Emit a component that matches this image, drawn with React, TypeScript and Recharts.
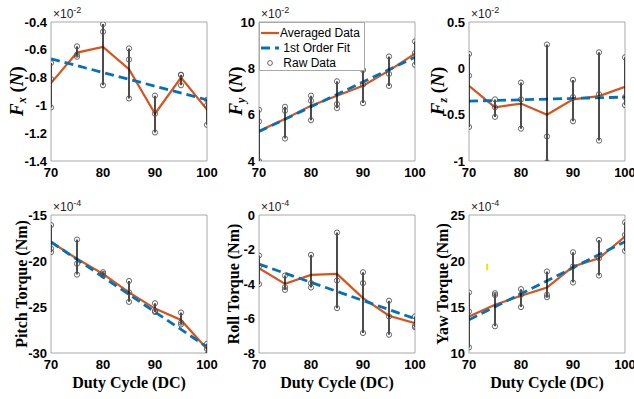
import React from 'react';
import { ComposedChart, Line, Scatter, XAxis, YAxis, ReferenceArea, ReferenceLine } from 'recharts';

// ─── Data ─────────────────────────────────────────────────────────────────────

const DUTY = [70, 75, 80, 85, 90, 95, 100];
const X_TICKS = [70, 80, 90, 100];

// Fx, ×10^-2 N
const FX_AVG = [-0.84, -0.62, -0.58, -0.74, -1.06, -0.8, -1.03];
const FX_RAW = [[-0.695, -0.81, -1.015], [-0.575, -0.65, -0.635], [-0.415, -0.47, -0.855], [-0.59, -0.67, -0.95], [-0.93, -1.06, -1.195], [-0.78, -0.78, -0.855], [-0.96, -1.0, -1.14]];
const FX_FIT = [-0.665, -0.96];
const FX_TICKS = [-1.4, -1.2, -1, -0.8, -0.6, -0.4];

// Fy, ×10^-2 N
const FY_AVG = [5.3, 5.81, 6.39, 6.82, 7.25, 7.9, 8.63];
const FY_RAW = [[6.21, 5.71, 4.0], [6.34, 6.17, 4.97], [6.82, 6.6, 5.76], [7.44, 6.46, 6.28], [7.93, 7.3, 6.5], [8.51, 7.76, 7.24], [9.16, 8.66, 8.15]];
const FY_FIT = [5.27, 8.48];
const FY_TICKS = [4, 6, 8, 10];

// Fz, ×10^-2 N
const FZ_AVG = [-0.19, -0.42, -0.38, -0.5, -0.335, -0.3, -0.2];
const FZ_RAW = [[0.155, -0.08, -0.633], [-0.335, -0.524, -0.42], [-0.154, -0.335, -0.651], [0.257, -0.735, -1.014], [-0.125, -0.571, -0.31], [0.173, -0.28, -0.78], [0.119, -0.31, -0.397]];
const FZ_FIT = [-0.354, -0.31];
const FZ_TICKS = [-1, -0.5, 0, 0.5];

// Pitch torque, ×10^-4 Nm
const PITCH_AVG = [-17.93, -19.76, -21.4, -23.41, -25.17, -26.41, -29.56];
const PITCH_RAW = [[-16.1, -18.66, -19.04], [-17.67, -20.3, -21.48], [-21.22, -21.58, -21.4], [-22.17, -23.4, -24.44], [-24.59, -25.43, -25.54], [-25.6, -26.7, -26.9], [-29.0, -29.56, -30.2]];
const PITCH_FIT = [-17.93, -29.34];
const PITCH_TICKS = [-30, -25, -20, -15];

// Roll torque, ×10^-4 Nm
const ROLL_AVG = [-3.08, -3.99, -3.47, -3.41, -4.82, -5.84, -6.27];
const ROLL_RAW = [[-2.35, -2.99, -4.01], [-3.51, -4.18, -4.34], [-2.31, -3.95, -4.2], [-1.02, -3.8, -5.4], [-3.32, -3.95, -6.84], [-4.97, -5.88, -6.94], [-5.88, -6.5, -6.43]];
const ROLL_FIT = [-2.85, -6.01];
const ROLL_TICKS = [-8, -6, -4, -2, 0];

// Yaw torque, ×10^-4 Nm
const YAW_AVG = [13.98, 15.24, 16.22, 17.12, 19.4, 20.3, 22.65];
const YAW_RAW = [[16.58, 14.52, 10.61], [16.5, 16.3, 12.9], [16.94, 16.33, 14.99], [18.86, 16.33, 16.07], [20.95, 19.4, 17.66], [22.29, 20.3, 18.42], [24.2, 22.83, 21.1]];
const YAW_FIT = [13.61, 22.1];
const YAW_TICKS = [10, 15, 20, 25];
// stray yellow mark in the yaw panel
const YAW_MARK_X = 73.5;
const YAW_MARK_Y = [19.0, 19.7];

// ─── Styling ──────────────────────────────────────────────────────────────────

const ORANGE = '#D95319';
const BLUE = '#0072BD';
const BOX = '#a8a8a8';
const SANS = '"Liberation Sans", Arial, sans-serif';
const SERIF = '"Liberation Serif", "Times New Roman", serif';

const PW = 156;          // plot width
const AXW = 51;          // y-axis gutter
const TOPM = 22;         // space above plot
const RIGHTM = 22;       // room for the last x tick label

const tickStyle = { fontSize: 13, fontWeight: 700, fill: '#000', fontFamily: SANS };

type PanelProps = {
  plotLeft: number; plotTop: number; plotH: number;
  ticks: number[]; avg: number[]; raw: number[][]; fit: number[];
  exp: string; extra?: React.ReactNode;
};

function Panel({ plotLeft, plotTop, plotH, ticks, avg, raw, fit, exp, extra }: PanelProps) {
  const lo = ticks[0];
  const hi = ticks[ticks.length - 1];
  const avgRows = DUTY.map((x, i) => ({ x, y: avg[i] }));
  const fitRows = [{ x: DUTY[0], y: fit[0] }, { x: DUTY[DUTY.length - 1], y: fit[1] }];
  const rawPts = DUTY.flatMap((x, i) => raw[i].map((y) => ({ x, y })));
  const bars = DUTY.map((x, i) => [{ x, y: Math.min(...raw[i]) }, { x, y: Math.max(...raw[i]) }]);
  const W = AXW + PW + RIGHTM;
  const H = TOPM + plotH + 28;

  return (
    <div style={{ position: 'absolute', left: plotLeft - AXW, top: plotTop - TOPM, width: W, height: H }}>
      <ComposedChart width={W} height={H} margin={{ top: TOPM, right: RIGHTM, left: 0, bottom: 0 }}>
        <XAxis type="number" dataKey="x" domain={[70, 100]} ticks={X_TICKS} allowDataOverflow
               tick={tickStyle} tickLine={false} axisLine={false} tickSize={0} tickMargin={7} height={28} />
        <YAxis type="number" dataKey="y" domain={[lo, hi]} ticks={ticks} allowDataOverflow
               tick={tickStyle} tickLine={false} axisLine={false} tickSize={0} tickMargin={4} width={AXW} />
        <ReferenceArea x1={70} x2={100} y1={lo} y2={hi} fill="#fff" fillOpacity={1} stroke={BOX} strokeWidth={1} />
        <Line data={avgRows} dataKey="y" stroke={ORANGE} strokeWidth={2.2} dot={false} isAnimationActive={false} />
        <Line data={fitRows} dataKey="y" stroke={BLUE} strokeWidth={2.8} strokeDasharray="9 5" dot={false} isAnimationActive={false} />
        {bars.map((b, i) => (
          <Line key={i} data={b} dataKey="y" stroke="#111" strokeWidth={1.5} dot={false} isAnimationActive={false} />
        ))}
        <Scatter data={rawPts} dataKey="y" isAnimationActive={false}
                 shape={(p: any) => <circle cx={p.cx} cy={p.cy} r={2.6} fill="none" stroke="#555" strokeWidth={0.9} />} />
        {extra}
      </ComposedChart>
      <div style={{ position: 'absolute', left: AXW + 2, top: TOPM - 17, fontFamily: SANS, fontSize: 12, color: '#222', whiteSpace: 'nowrap' }}>
        ×10<sup style={{ fontSize: 9, verticalAlign: 5 }}>{exp}</sup>
      </div>
    </div>
  );
}

function VLabel({ cx, cy, children, font, size }: { cx: number; cy: number; children: React.ReactNode; font: string; size: number }) {
  return (
    <div style={{
      position: 'absolute', left: cx, top: cy, transform: 'translate(-50%, -50%) rotate(-90deg)',
      whiteSpace: 'nowrap', fontFamily: font, fontSize: size, fontWeight: 700, color: '#000', lineHeight: 1,
    }}>{children}</div>
  );
}

function ForceLabel({ sub }: { sub: string }) {
  return (
    <span><i>F</i><sub style={{ fontSize: 12, fontStyle: 'italic', verticalAlign: -3 }}>{sub}</sub> (<i>N</i>)</span>
  );
}

function LegendBox() {
  const row = { display: 'flex', alignItems: 'center', height: 15, whiteSpace: 'nowrap' } as React.CSSProperties;
  return (
    <div style={{ position: 'absolute', left: 259, top: 22, width: 106, height: 49, background: '#fff',
                  border: `1px solid ${BOX}`, fontFamily: SANS, fontSize: 12, color: '#000', padding: '2px 0 0 0',
                  boxSizing: 'border-box', overflow: 'hidden' }}>
      <div style={row}>
        <svg width={20} height={10}><line x1={1} y1={5} x2={19} y2={5} stroke={ORANGE} strokeWidth={2.2} /></svg>
        <span>Averaged Data</span>
      </div>
      <div style={row}>
        <svg width={20} height={10}><line x1={1} y1={5} x2={19} y2={5} stroke={BLUE} strokeWidth={2.8} strokeDasharray="9 5" /></svg>
        <span>&nbsp;1st Order Fit</span>
      </div>
      <div style={row}>
        <svg width={20} height={10}><circle cx={10} cy={5} r={2.4} fill="none" stroke="#555" strokeWidth={0.9} /></svg>
        <span>&nbsp;Raw Data</span>
      </div>
    </div>
  );
}

export default function App() {
  const cols = [51, 259, 469];
  const rows = [22, 215];
  return (
    <div style={{ position: 'fixed', left: 0, top: 0, width: 634, height: 399, background: '#fff', overflow: 'hidden' }}>
      <Panel plotLeft={cols[0]} plotTop={rows[0]} plotH={139} ticks={FX_TICKS} avg={FX_AVG} raw={FX_RAW} fit={FX_FIT} exp="-2" />
      <Panel plotLeft={cols[1]} plotTop={rows[0]} plotH={139} ticks={FY_TICKS} avg={FY_AVG} raw={FY_RAW} fit={FY_FIT} exp="-2" />
      <Panel plotLeft={cols[2]} plotTop={rows[0]} plotH={139} ticks={FZ_TICKS} avg={FZ_AVG} raw={FZ_RAW} fit={FZ_FIT} exp="-2" />
      <Panel plotLeft={cols[0]} plotTop={rows[1]} plotH={138} ticks={PITCH_TICKS} avg={PITCH_AVG} raw={PITCH_RAW} fit={PITCH_FIT} exp="-4" />
      <Panel plotLeft={cols[1]} plotTop={rows[1]} plotH={138} ticks={ROLL_TICKS} avg={ROLL_AVG} raw={ROLL_RAW} fit={ROLL_FIT} exp="-4" />
      <Panel plotLeft={cols[2]} plotTop={rows[1]} plotH={138} ticks={YAW_TICKS} avg={YAW_AVG} raw={YAW_RAW} fit={YAW_FIT} exp="-4"
             extra={<ReferenceLine segment={[{ x: YAW_MARK_X, y: YAW_MARK_Y[0] }, { x: YAW_MARK_X, y: YAW_MARK_Y[1] }]}
                                   stroke="#f5e000" strokeWidth={2} />} />

      <LegendBox />

      <VLabel cx={17} cy={91} font={SERIF} size={19}><ForceLabel sub="x" /></VLabel>
      <VLabel cx={236} cy={91} font={SERIF} size={19}><ForceLabel sub="y" /></VLabel>
      <VLabel cx={438} cy={91} font={SERIF} size={19}><ForceLabel sub="z" /></VLabel>

      <VLabel cx={22} cy={284} font={SERIF} size={16}>Pitch Torque (Nm)</VLabel>
      <VLabel cx={234} cy={284} font={SERIF} size={16}>Roll Torque (Nm)</VLabel>
      <VLabel cx={443} cy={284} font={SERIF} size={16}>Yaw Torque (Nm)</VLabel>

      {cols.map((c) => (
        <div key={c} style={{ position: 'absolute', left: c + PW / 2, top: 383, transform: 'translate(-50%, -50%)',
                              fontFamily: SERIF, fontSize: 16, fontWeight: 700, whiteSpace: 'nowrap' }}>
          Duty Cycle (DC)
        </div>
      ))}
    </div>
  );
}
